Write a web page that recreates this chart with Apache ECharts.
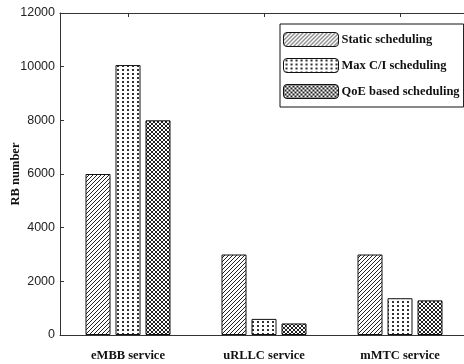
<!DOCTYPE html>
<html><head><meta charset="utf-8">
<script src="https://cdn.jsdelivr.net/npm/echarts@6/dist/echarts.min.js"></script>
<style>html,body{margin:0;padding:0;background:#fff}#c{width:464px;height:364px}</style>
</head><body><div id="c"></div>
<script>
var categories = ['eMBB service', 'uRLLC service', 'mMTC service'];
var seriesNames = ['Static scheduling', 'Max C/I scheduling', 'QoE based scheduling'];
var staticVals = [6000, 3000, 3000];
var maxciVals = [10060, 600, 1370];
var qoeVals = [8000, 430, 1290];
var yTicks = [0, 2000, 4000, 6000, 8000, 10000, 12000];

function mk(w, h, draw) {
  var c = document.createElement('canvas'); c.width = w; c.height = h;
  var g = c.getContext('2d'); g.fillStyle = '#fff'; g.fillRect(0, 0, w, h);
  draw(g); return c;
}
var hatch = mk(4, 4, function (g) {
  g.strokeStyle = '#222'; g.lineWidth = 1;
  g.beginPath(); g.moveTo(-1, 5); g.lineTo(5, -1);
  g.moveTo(-1, 1); g.lineTo(1, -1);
  g.moveTo(3, 5); g.lineTo(5, 3); g.stroke();
});
var dots = mk(5, 4, function (g) {
  g.fillStyle = '#333'; g.fillRect(2, 1, 2, 2);
});
var cross = mk(4, 4, function (g) {
  g.strokeStyle = '#222'; g.lineWidth = 1;
  g.beginPath();
  g.moveTo(-1, 5); g.lineTo(5, -1);
  g.moveTo(-1, -1); g.lineTo(5, 5);
  g.stroke();
});
var pats = [hatch, dots, cross];
var vals = [staticVals, maxciVals, qoeVals];

var chart = echarts.init(document.getElementById('c'), null, {renderer: 'canvas'});
var serif = '"Liberation Serif", "Times New Roman", serif';
var sans = '"Liberation Sans", Arial, sans-serif';
chart.setOption({
  animation: false,
  backgroundColor: '#fff',
  grid: {left: 60, top: 13, width: 408, height: 322, containLabel: false, outerBoundsMode: 'none'},
  legend: {
    orient: 'vertical', left: 280, top: 24,
    data: seriesNames,
    itemWidth: 55, itemHeight: 14, itemGap: 11,
    padding: [8, 4, 8, 3],
    borderColor: '#111', borderWidth: 1, backgroundColor: '#fff',
    textStyle: {fontFamily: serif, fontWeight: 'bold', fontSize: 12.5, color: '#111', padding: [0, 0, 0, -2]},
    itemStyle: {borderColor: '#111', borderWidth: 1}
  },
  xAxis: [{
    type: 'category', data: categories, position: 'bottom',
    axisLine: {lineStyle: {color: '#333', width: 1}},
    axisTick: {show: true, inside: true, alignWithLabel: true, length: 4, lineStyle: {color: '#333'}},
    axisLabel: {fontFamily: serif, fontWeight: 'bold', fontSize: 12.5, color: '#111', margin: 14}
  }, {
    type: 'category', data: categories, position: 'top',
    axisLine: {show: true, onZero: false, lineStyle: {color: '#333', width: 1}},
    axisTick: {show: true, inside: true, alignWithLabel: true, length: 4, lineStyle: {color: '#333'}},
    axisLabel: {show: false}
  }],
  yAxis: [{
    type: 'value', min: 0, max: 12000, interval: 2000,
    name: 'RB number', nameLocation: 'middle', nameGap: 38, nameMoveOverlap: false,
    nameTextStyle: {fontFamily: serif, fontWeight: 'bold', fontSize: 12.5, color: '#111'},
    axisLine: {show: true, lineStyle: {color: '#333', width: 1}},
    axisTick: {show: true, inside: true, length: 4, lineStyle: {color: '#333'}},
    axisLabel: {fontFamily: sans, fontSize: 12.5, color: '#222', margin: 5,
      formatter: function (v) { return yTicks.indexOf(v) >= 0 ? String(v) : ''; }},
    splitLine: {show: false}
  }, {
    type: 'value', min: 0, max: 12000, interval: 2000, position: 'right',
    axisLine: {show: true, lineStyle: {color: '#333', width: 1}},
    axisTick: {show: true, inside: true, length: 4, lineStyle: {color: '#333'}},
    axisLabel: {show: false}, splitLine: {show: false}
  }],
  series: seriesNames.map(function (n, i) {
    return {
      name: n, type: 'bar', data: vals[i], barWidth: 25, barGap: '20%',
      itemStyle: {color: {image: pats[i], repeat: 'repeat'}, borderColor: '#111', borderWidth: 1}
    };
  })
});
</script></body></html>
